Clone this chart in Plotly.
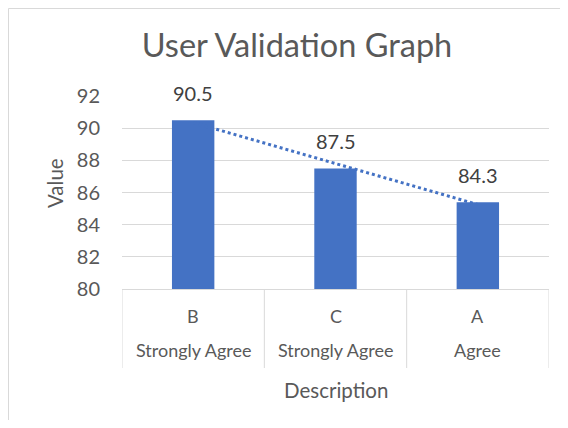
import numpy as np
import plotly.graph_objects as go

# ---- data ----
categories = ["B", "C", "A"]
descriptions = ["Strongly Agree", "Strongly Agree", "Agree"]
values = [90.5, 87.5, 85.4]
value_labels = ["90.5", "87.5", "84.3"]
y_ticks = [80, 82, 84, 86, 88, 90, 92]
title_text = "User Validation Graph"
x_title = "Description"
y_title = "Value"

# ---- style ----
BLUE = "#4472C4"
TXT = "#595959"
DARK = "#404040"
GRID = "#D9D9D9"
FONT = "Lato"

OFF = 8  # page body margin (figure kept inside the window to avoid scrollbars)
W, H = 552, 412
L, R, T, B = 114, 11, 88, 131
PW, PH = W - L - R, H - T - B


def px2x(px):
    return (px - OFF - L) / PW


def py2y(py):
    return (H - B - (py - OFF)) / PH


idx = np.arange(len(categories))
coef = np.polyfit(idx, values, 1)
trend = np.polyval(coef, idx)

fig = go.Figure()
fig.add_bar(x=idx, y=values, width=0.298, marker=dict(color=BLUE, line=dict(width=0)),
            showlegend=False, hoverinfo="y")
fig.add_scatter(x=idx, y=trend, mode="lines", line=dict(color=BLUE, width=3, dash="dot"),
                showlegend=False, hoverinfo="skip")

annotations = []
for i, (v, lab) in enumerate(zip(values, value_labels)):
    annotations.append(dict(x=i, y=v, xref="x", yref="y", text=lab, showarrow=False,
                            yanchor="middle", yshift=27,
                            font=dict(family=FONT, size=20, color=DARK)))
for i, (c, d) in enumerate(zip(categories, descriptions)):
    annotations.append(dict(x=i, y=py2y(316), xref="x", yref="paper", text=c, showarrow=False,
                            yanchor="middle", font=dict(family=FONT, size=18, color=TXT)))
    annotations.append(dict(x=i, y=py2y(350), xref="x", yref="paper", text=d, showarrow=False,
                            yanchor="middle", font=dict(family=FONT, size=18, color=TXT)))
annotations.append(dict(x=px2x(336), y=py2y(390), xref="paper", yref="paper", text=x_title,
                        showarrow=False, yanchor="middle", xanchor="center",
                        font=dict(family=FONT, size=20.5, color=TXT)))
annotations.append(dict(x=px2x(55), y=py2y(183), xref="paper", yref="paper", text=y_title,
                        showarrow=False, yanchor="middle", xanchor="center", textangle=-90,
                        font=dict(family=FONT, size=20.5, color=TXT)))

shapes = []
for b in [-0.5, 0.5, 1.5, 2.5]:
    shapes.append(dict(type="line", xref="x", yref="paper", x0=b, x1=b, y0=0, y1=py2y(368),
                       line=dict(color=GRID, width=1)))
# outer chart border: left and top edges
bx0, bx1 = px2x(8.5), px2x(562)
by_top, by_bot = py2y(8.5), py2y(421)
for (x0, y0, x1, y1) in [(bx0, by_bot, bx0, by_top), (bx0, by_top, bx1, by_top)]:
    shapes.append(dict(type="line", xref="paper", yref="paper", x0=x0, y0=y0, x1=x1, y1=y1,
                       line=dict(color=GRID, width=1), layer="below"))

fig.update_layout(
    width=W, height=H,
    margin=dict(l=L, r=R, t=T, b=B),
    paper_bgcolor="white", plot_bgcolor="white",
    title=dict(text=title_text, xref="paper", x=px2x(297), xanchor="center",
               yref="container", y=1 - (46 - OFF) / H, yanchor="middle",
               font=dict(family=FONT, size=32.5, color=TXT)),
    xaxis=dict(range=[-0.5, 2.5], showticklabels=False, showgrid=False, zeroline=False,
               showline=True, linecolor=GRID, linewidth=1, ticks=""),
    yaxis=dict(range=[80, 92], tickvals=y_ticks, showgrid=True, gridcolor=GRID, gridwidth=1,
               zeroline=False, showline=False, ticks="", ticklabelstandoff=21,
               tickfont=dict(family=FONT, size=20, color=TXT)),
    annotations=annotations,
    shapes=shapes,
    bargap=0.7,
)

fig.write_html("out.html")
